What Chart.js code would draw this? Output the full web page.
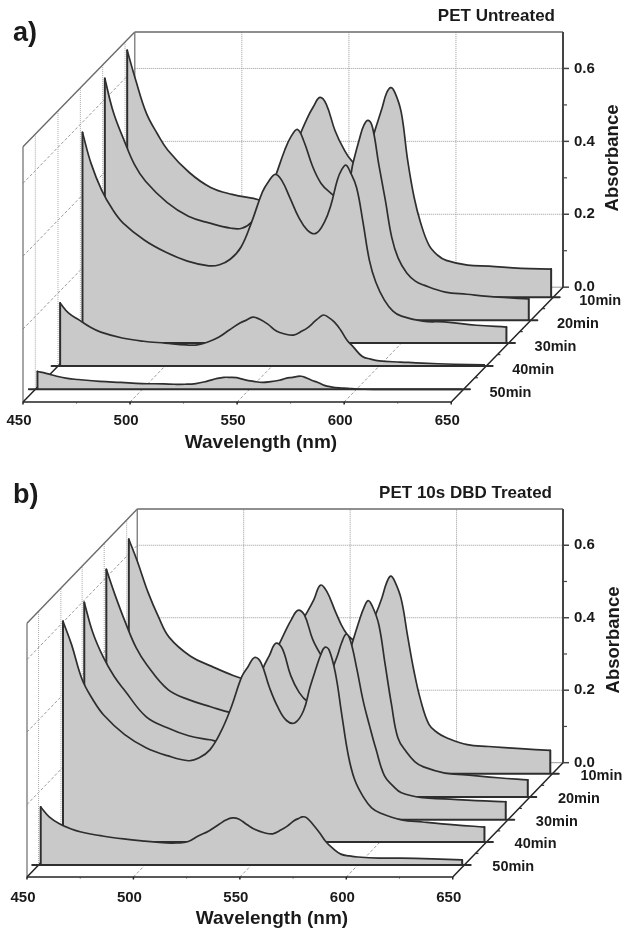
<!DOCTYPE html>
<html><head><meta charset="utf-8">
<script src="https://cdn.jsdelivr.net/npm/chart.js@4"></script>
<style>
html,body{margin:0;padding:0;background:#fff;width:625px;height:931px;overflow:hidden}
canvas{position:absolute;left:0;filter:blur(.35px)}
#ca{top:0}#cb{top:465px}
</style></head><body>
<canvas id="ca" width="625" height="465"></canvas>
<canvas id="cb" width="625" height="466"></canvas>
<script>
const wavelengths=[451,455,460,465,470,480,490,500,510,515,520,525,530,535,538,541,544,548,552,556,560,564,567,570,572,574,576,579,582,585,588,592,596,600,610,620,635,649];
const xTicks=[450,500,550,600,650];
const xMinor=[475,525,575,625];
const yTicks=[0,0.2,0.4,0.6];
const yMinor=[0.1,0.3,0.5];
const depthLabels=['10min','20min','30min','40min','50min'];

const a10=[.677,.595,.504,.449,.403,.342,.301,.282,.271,.266,.293,.348,.422,.490,.523,.548,.529,.458,.408,.373,.362,.408,.463,.518,.558,.575,.562,.507,.375,.274,.205,.142,.115,.101,.088,.085,.079,.077];
const a20=[.663,.570,.493,.425,.381,.323,.285,.266,.252,.252,.271,.315,.384,.466,.504,.523,.490,.422,.375,.351,.337,.356,.433,.499,.535,.548,.529,.425,.329,.227,.170,.129,.107,.096,.077,.071,.063,.058];
const a30=[.578,.493,.419,.367,.329,.282,.249,.225,.212,.215,.230,.263,.332,.414,.444,.463,.447,.397,.345,.310,.301,.332,.378,.447,.475,.488,.470,.427,.332,.227,.167,.118,.088,.074,.060,.058,.049,.044];
const a40=[.173,.145,.126,.107,.093,.077,.068,.063,.058,.058,.066,.079,.099,.118,.126,.134,.129,.115,.096,.088,.085,.096,.107,.123,.133,.140,.135,.121,.099,.071,.052,.027,.019,.014,.011,.008,.005,.003];
const a50=[.049,.044,.036,.030,.027,.022,.019,.016,.015,.014,.014,.016,.022,.030,.033,.033,.032,.026,.022,.019,.021,.025,.030,.033,.035,.036,.033,.025,.019,.011,.007,.004,.003,.001,0,0,0,0];

const b10=[.647,.586,.501,.432,.376,.324,.296,.271,.252,.246,.274,.329,.398,.448,.481,.520,.503,.448,.398,.371,.371,.404,.440,.487,.525,.545,.530,.481,.379,.282,.205,.136,.113,.100,.080,.075,.069,.064];
const b20=[.628,.559,.481,.412,.365,.296,.268,.249,.232,.232,.268,.324,.393,.456,.490,.515,.503,.434,.390,.357,.343,.379,.434,.490,.522,.542,.526,.476,.365,.254,.163,.124,.097,.083,.066,.061,.053,.047];
const b30=[.600,.517,.448,.396,.357,.285,.254,.232,.221,.216,.224,.260,.321,.418,.454,.487,.473,.398,.351,.326,.321,.357,.407,.454,.490,.512,.495,.418,.329,.260,.196,.122,.094,.075,.061,.058,.053,.050];
const b40=[.609,.545,.448,.393,.351,.296,.260,.238,.224,.232,.254,.302,.371,.456,.484,.509,.495,.426,.371,.335,.329,.362,.426,.481,.515,.537,.530,.465,.350,.240,.172,.125,.094,.080,.061,.055,.047,.041];
const b50=[.160,.133,.113,.100,.091,.080,.072,.066,.061,.061,.064,.080,.094,.113,.124,.130,.127,.111,.097,.089,.086,.097,.108,.122,.128,.133,.130,.111,.089,.064,.047,.030,.025,.022,.019,.019,.017,.014];

const depthsA=[.913,.713,.513,.313,.11];
const depthsB=[.904,.70,.50,.307,.105];

const FILL='#c9c9c9', INK='#2e2e2e', TXT='#1a1a1a';
const FONT='"Liberation Sans", Arial, sans-serif';

function panel(id,cfg){
  const P=(l,v,d)=>({x:l+d*cfg.dL,y:v-(1-d)*cfg.dY});
  const datasets=[];
  // index 0 is drawn last, so the front series comes first
  for(let i=cfg.series.length-1;i>=0;i--){
    const d=cfg.depths[i], vals=cfg.series[i];
    const first=wavelengths[0], last=wavelengths[wavelengths.length-1];
    datasets.push({label:depthLabels[i]+' frame',showLine:true,pointRadius:0,fill:false,borderColor:INK,borderWidth:2,clip:false,
      data:[P(first,vals[0],d),P(first,0,d),{x:null,y:null},P(447,0,d),P(653,0,d),{x:null,y:null},P(last,0,d),P(last,vals[vals.length-1],d)]});
    datasets.push({label:depthLabels[i],showLine:true,pointRadius:0,borderColor:INK,borderWidth:1.7,clip:false,
      tension:.4,backgroundColor:FILL,
      fill:{target:{value:-(1-d)*cfg.dY}},
      data:wavelengths.map((w,k)=>P(w,vals[k],d))});
  }
  const frame={id:'frame',beforeDatasetsDraw(c){
    const g=c.ctx,sx=c.scales.x,sy=c.scales.y;
    const pt=(l,v,d)=>{const p=P(l,v,d);return [sx.getPixelForValue(p.x),sy.getPixelForValue(p.y)];};
    const line=(a,b,col,w,dash)=>{g.beginPath();g.strokeStyle=col;g.lineWidth=w;g.setLineDash(dash||[]);g.moveTo(a[0],a[1]);g.lineTo(b[0],b[1]);g.stroke();g.setLineDash([]);};
    g.save();
    const L=xTicks[0],R=xTicks[xTicks.length-1],T=cfg.top;
    xTicks.slice(1,-1).forEach(x=>line(pt(x,0,1),pt(x,T,1),'#9a9a9a',1,[1,1]));
    yTicks.slice(1).forEach(y=>line(pt(L,y,1),pt(R,y,1),'#9a9a9a',1,[1,1]));
    yTicks.slice(1).forEach(y=>line(pt(L,y,0),pt(L,y,1),'#9a9a9a',1,[3,2]));
    cfg.depths.forEach(d=>line(pt(L,0,d),pt(L,T,d),'#a8a8a8',1,[1,1]));
    xTicks.slice(1,-1).forEach(x=>line(pt(x,0,0),pt(x,0,1),'#9a9a9a',1,[3,2]));
    line(pt(L,0,0),pt(L,T,0),'#808080',1.4);
    line(pt(L,T,0),pt(L,T,1),'#6a6a6a',1.4);
    line(pt(L,0,1),pt(L,T,1),'#808080',1.4);
    line(pt(L,T,1),pt(R,T,1),'#6a6a6a',1.4);
    line(pt(R-6,0,1),pt(R,0,1),'#999',1);
    line(pt(R,0,1),pt(R,T,1),'#444',2);
    yTicks.forEach(y=>{const a=pt(R,y,1);line(a,[a[0]+6,a[1]],'#444',1.5);});
    yMinor.forEach(y=>{const a=pt(R,y,1);line(a,[a[0]+4,a[1]],'#444',1.2);});
    line(pt(L,0,0),pt(L,0,1),'#222',1.5);
    line(pt(R,0,0),pt(R,0,1),'#222',1.5);
    line(pt(L,0,0),pt(R,0,0),'#222',1.6);
    xTicks.forEach(x=>{const a=pt(x,0,0);line(a,[a[0],a[1]+2.5],'#222',1.5);});
    xMinor.forEach(x=>{const a=pt(x,0,0);line(a,[a[0],a[1]+1.5],'#444',1);});
    cfg.depths.forEach((d,i)=>{
      const nx=i<cfg.depths.length-1?(d+cfg.depths[i+1])/2:null;
      if(nx!==null){const a=pt(R,0,nx);line(a,[a[0]+3,a[1]],'#333',1.2);}
    });
    g.restore();
  }};
  const texts={id:'texts',afterDraw(c){
    const g=c.ctx,sx=c.scales.x,sy=c.scales.y;
    const pt=(l,v,d)=>{const p=P(l,v,d);return [sx.getPixelForValue(p.x),sy.getPixelForValue(p.y)];};
    g.save();g.fillStyle=TXT;g.textBaseline='middle';
    g.font='bold 27px '+FONT;g.textAlign='left';g.fillText(cfg.letter,cfg.letterX,cfg.letterY);
    g.font='bold 17px '+FONT;g.textAlign='right';g.fillText(cfg.title,cfg.titleR,cfg.titleY);
    g.font='bold 19px '+FONT;g.textAlign='center';g.fillText('Wavelength (nm)',cfg.xTitleX,cfg.xTitleY);
    g.font='bold 14.5px '+FONT;g.textAlign='left';
    cfg.depths.forEach((d,i)=>{const a=pt(xTicks[xTicks.length-1],0,d);g.fillText(depthLabels[i],a[0]+cfg.labDX,a[1]+cfg.labDY);});
    g.translate(cfg.yTitleX,cfg.yTitleY);g.rotate(-Math.PI/2);
    g.font='bold 18.5px '+FONT;g.textAlign='center';g.fillText('Absorbance',0,0);
    g.restore();
  }};
  new Chart(document.getElementById(id),{type:'scatter',data:{datasets},plugins:[frame,texts],options:{
    responsive:false,animation:false,events:[],
    layout:{autoPadding:false,padding:{left:cfg.left,right:0,top:cfg.areaTop,bottom:cfg.padBottom}},
    plugins:{legend:{display:false},tooltip:{enabled:false},filler:{drawTime:'beforeDatasetDraw'}},
    elements:{line:{borderCapStyle:'round',borderJoinStyle:'round'}},
    scales:{
      x:{type:'linear',position:'bottom',min:450,max:650+cfg.dL,
        grid:{display:false,drawTicks:false},border:{display:false},
        afterBuildTicks(s){s.ticks=xTicks.map(value=>({value}));},
        afterFit(s){s.height=50;},
        ticks:{color:TXT,font:{family:FONT,size:15,weight:'bold'},padding:cfg.xPad,labelOffset:-4,maxRotation:0,autoSkip:false,callback:v=>String(v)}},
      y:{type:'linear',position:'right',min:-cfg.dY,max:cfg.top,
        grid:{display:false,drawTicks:false},border:{display:false},
        afterBuildTicks(s){s.ticks=yTicks.map(value=>({value}));},
        afterFit(s){s.width=62;},
        ticks:{color:TXT,font:{family:FONT,size:15,weight:'bold'},padding:11,autoSkip:false,callback:v=>v.toFixed(1)}}
    }}});
}
panel('ca',{series:[a10,a20,a30,a40,a50],depths:depthsA,dL:52.2,dY:.315,top:.7,
  left:23,areaTop:32,padBottom:13,xPad:10,
  letter:'a)',letterX:13,letterY:34,title:'PET Untreated',titleR:555,titleY:16,
  xTitleX:261,xTitleY:443,yTitleX:613,yTitleY:158,labDX:26,labDY:4});
panel('cb',{series:[b10,b20,b30,b40,b50],depths:depthsB,dL:51.8,dY:.3154,top:.7,
  left:27,areaTop:44,padBottom:4,xPad:12,
  letter:'b)',letterX:13,letterY:31,title:'PET 10s DBD Treated',titleR:552,titleY:28,
  xTitleX:272,xTitleY:454,yTitleX:614,yTitleY:175,labDX:28,labDY:2});
</script>
</body></html>
